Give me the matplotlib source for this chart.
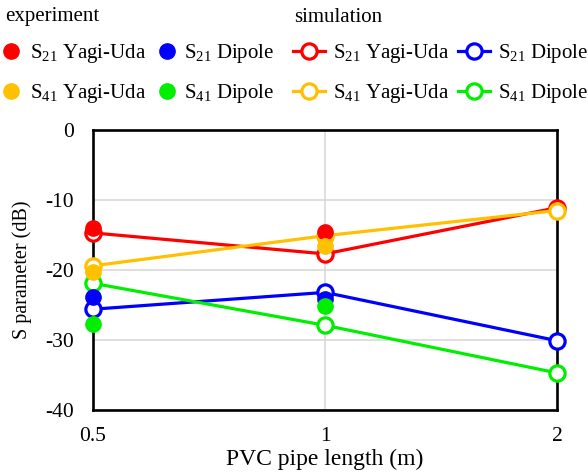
import matplotlib
matplotlib.use("Agg")
import matplotlib.pyplot as plt
from matplotlib.lines import Line2D

plt.rcParams['font.family'] = ['Liberation Serif', 'DejaVu Serif']
plt.rcParams['mathtext.default'] = 'regular'
plt.rcParams['axes.unicode_minus'] = False

lengths = [0.5, 1, 2]
tick_labels = ['0.5', '1', '2']
exp_lengths = [0.5, 1]

exp_s21_yagi = [-14.0, -14.5]
exp_s41_yagi = [-20.3, -16.5]
exp_s21_dipole = [-23.9, -24.2]
exp_s41_dipole = [-27.7, -25.2]

sim_s21_yagi = [-14.7, -17.7, -11.1]
sim_s41_yagi = [-19.4, -15.1, -11.5]
sim_s21_dipole = [-25.6, -23.2, -30.1]
sim_s41_dipole = [-21.9, -27.9, -34.7]

RED, BLUE, ORANGE, GREEN = '#FF0000', '#0000FF', '#FFC000', '#00EE00'

W, H = 588, 474
fig = plt.figure(figsize=(W/100, H/100), dpi=100)
ax = fig.add_axes([93/W, 1-410/H, (557-93)/W, (410-130)/H])

ms = 11
lw = 2.3
mew = 2.3

sims = [(sim_s21_yagi, RED), (sim_s41_yagi, ORANGE), (sim_s21_dipole, BLUE), (sim_s41_dipole, GREEN)]
exps = [(exp_s21_yagi, RED), (exp_s41_yagi, ORANGE), (exp_s21_dipole, BLUE), (exp_s41_dipole, GREEN)]

for vals, c in sims:
    ax.plot(lengths, vals, color=c, lw=lw, marker='o', ms=ms, mfc='white',
            mec=c, mew=mew, zorder=3, clip_on=False)
for vals, c in exps:
    ax.plot(exp_lengths, vals, ls='none', marker='o', ms=ms, mfc=c, mec=c,
            zorder=4, clip_on=False)

ax.set_xscale('log', base=2)
ax.set_xlim(0.5, 2)
ax.set_ylim(-40, 0)
ax.set_xticks(lengths)
ax.set_xticklabels(tick_labels)
ax.minorticks_off()
ax.set_yticks([0, -10, -20, -30, -40])
ax.tick_params(length=0, labelsize=15.5)
ax.tick_params(axis='x', pad=12)
ax.tick_params(axis='y', pad=14)
ax.grid(True, color='#d9d9d9', lw=1.2, zorder=0)
ax.set_axisbelow(True)
for s in ax.spines.values():
    s.set_linewidth(1.9)
    s.set_color('black')
ax.set_xlabel('PVC pipe length (m)', fontsize=17, labelpad=2)
ax.set_ylabel('S parameter (dB)', fontsize=14.5, labelpad=9)

fig.text(5/W, 1-17/H, 'experiment', fontsize=15, va='center', ha='left')
fig.text(294/W, 1-17/H, 'simulation', fontsize=15, va='center', ha='left')

labels_yagi = ['S$_{21}$ Yagi-Uda', 'S$_{41}$ Yagi-Uda']
labels_dip = ['S$_{21}$ Dipole', 'S$_{41}$ Dipole']

def add_leg(handles, labels, x, hl, pad):
    return fig.legend(handles, labels, loc='upper left', bbox_to_anchor=(x/W, 1-42/H),
                      frameon=False, fontsize=15, borderpad=0, borderaxespad=0,
                      handlelength=hl, handletextpad=pad, labelspacing=0.82)

def exp_handle(c):
    return Line2D([], [], ls='none', marker='o', ms=ms, color=c)

def sim_handle(c):
    return Line2D([], [], color=c, lw=lw, marker='o', ms=ms, mfc='white', mec=c, mew=mew)

add_leg([exp_handle(RED), exp_handle(ORANGE)], labels_yagi, 1, 1.0, 0.4)
add_leg([exp_handle(BLUE), exp_handle(GREEN)], labels_dip, 157, 1.0, 0.32)
add_leg([sim_handle(RED), sim_handle(ORANGE)], labels_yagi, 293, 1.55, 0.38)
add_leg([sim_handle(BLUE), sim_handle(GREEN)], labels_dip, 458, 1.55, 0.38)

fig.savefig('out.png', dpi=100)
